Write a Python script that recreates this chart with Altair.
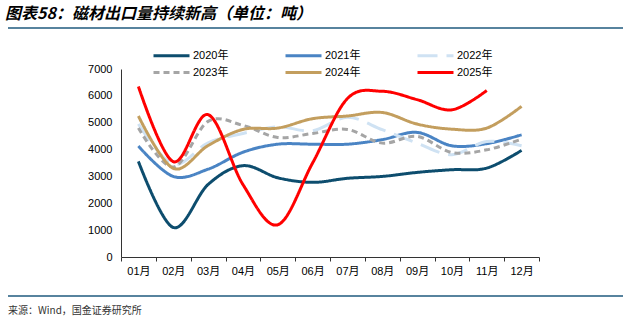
import altair as alt
import pandas as pd

months = ["01月", "02月", "03月", "04月", "05月", "06月", "07月", "08月", "09月", "10月", "11月", "12月"]
years = ["2020年", "2021年", "2022年", "2023年", "2024年", "2025年"]

v2020 = [3560, 1100, 2700, 3400, 2950, 2780, 2930, 3000, 3150, 3250, 3310, 3970]
v2021 = [4130, 3000, 3270, 3900, 4200, 4200, 4200, 4370, 4640, 4140, 4220, 4550]
v2022 = [4950, 3450, 4250, 4600, 4850, 4700, 5200, 4740, 4240, 3810, 4300, 4140]
v2023 = [4800, 3350, 5050, 4900, 4450, 4600, 4750, 4240, 4490, 3890, 3990, 4390]
v2024 = [5250, 3300, 4150, 4750, 4800, 5150, 5250, 5380, 4950, 4760, 4800, 5610]
v2025 = [6350, 3550, 5300, 2700, 1200, 3500, 5900, 6170, 5860, 5480, 6200]

colors = ["#0D4D6E", "#4A84C4", "#CFE2F3", "#A5A5A5", "#C39E5E", "#FF0000"]
dashes = [[1, 0], [1, 0], [20, 9], [6, 4], [1, 0], [1, 0]]

title_text = "图表58：磁材出口量持续新高（单位：吨）"
source_text = "来源：Wind，国金证券研究所"

rows = []
for y, vals in zip(years, [v2020, v2021, v2022, v2023, v2024, v2025]):
    for m, v in zip(months, vals):
        rows.append({"月份": m, "年份": y, "出口量": v})
df = pd.DataFrame(rows)

FONT = "Liberation Sans, Noto Sans CJK SC"

def make_legend():
    return alt.Legend(orient="none", legendX=45, legendY=-19, columns=3, direction="horizontal",
                      symbolType="M-6,0H6", symbolSize=36, symbolStrokeWidth=3,
                      labelFont=FONT, labelFontSize=11, labelColor="#000000",
                      labelOffset=16, columnPadding=50, rowPadding=4)

lines = alt.Chart(df).mark_line(interpolate="cardinal", strokeWidth=3, clip=False).encode(
    x=alt.X("月份:N", sort=months, title=None,
            scale=alt.Scale(paddingInner=0, paddingOuter=0),
            axis=alt.Axis(labelAngle=0, tickBand="extent", tickSize=4, domainColor="#333333",
                          tickColor="#333333", labelFont=FONT, labelFontSize=11,
                          labelColor="#000000", labelPadding=4, grid=False)),
    y=alt.Y("出口量:Q", title=None,
            scale=alt.Scale(domain=[0, 7000], nice=False),
            axis=alt.Axis(values=[0, 1000, 2000, 3000, 4000, 5000, 6000, 7000], ticks=False,
                          format="d",
                          domainColor="#333333", labelFont=FONT, labelFontSize=11,
                          labelColor="#000000", labelPadding=9, grid=False)),
    color=alt.Color("年份:N", sort=years, title=None,
                    scale=alt.Scale(domain=years, range=colors),
                    legend=make_legend()),
    strokeDash=alt.StrokeDash("年份:N", sort=years, title=None,
                              scale=alt.Scale(domain=years, range=dashes),
                              legend=make_legend()),
    order=alt.Order("年份:N"),
)

title = alt.Chart(pd.DataFrame({"t": [title_text]})).mark_text(
    align="left", baseline="middle", fontSize=16, fontWeight="bold", fontStyle="italic",
    font="Noto Sans CJK SC", color="#000000"
).encode(text="t:N", x=alt.value(-116), y=alt.value(-55))

source = alt.Chart(pd.DataFrame({"t": [source_text]})).mark_text(
    align="left", baseline="middle", fontSize=10, font="Noto Sans CJK SC", color="#333333"
).encode(text="t:N", x=alt.value(-113), y=alt.value(242))

rule_top = alt.Chart(pd.DataFrame({"a": [0]})).mark_rule(color="#1F5A7E", strokeWidth=1.5).encode(
    x=alt.value(-113), x2=alt.value(502), y=alt.value(-41))
rule_bot = alt.Chart(pd.DataFrame({"a": [0]})).mark_rule(color="#1F5A7E", strokeWidth=1.5).encode(
    x=alt.value(-113), x2=alt.value(502), y=alt.value(227))

chart = alt.layer(lines, title, source, rule_top, rule_bot).properties(
    width=418, height=188,
    padding={"left": 121, "top": 69, "right": 95, "bottom": 64},
    autosize=alt.AutoSizeParams(type="none"),
    background="#FFFFFF",
).configure_view(stroke=None)

chart.save("out.html", embed_options={"renderer": "svg", "actions": False})
